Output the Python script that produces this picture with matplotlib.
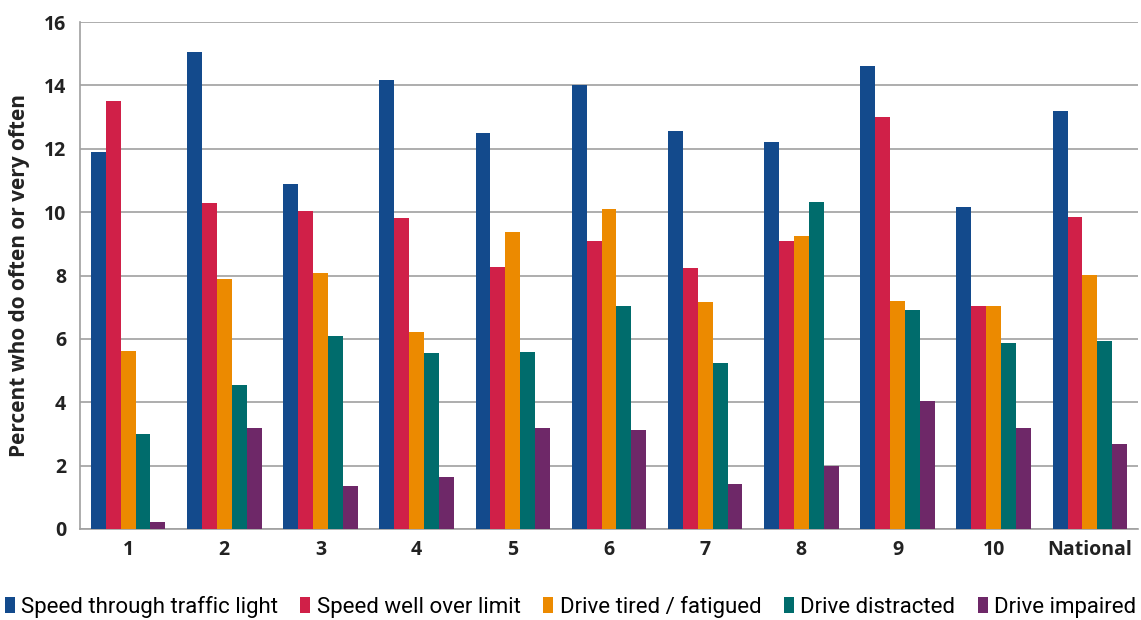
import matplotlib
matplotlib.use("Agg")
import matplotlib.pyplot as plt
import numpy as np

categories = ["1", "2", "3", "4", "5", "6", "7", "8", "9", "10", "National"]
series_names = ["Speed through traffic light", "Speed well over limit",
                "Drive tired / fatigued", "Drive distracted", "Drive impaired"]
speed_light = [11.9, 15.05, 10.9, 14.18, 12.5, 14.0, 12.56, 12.21, 14.6, 10.16, 13.18]
speed_limit = [13.5, 10.28, 10.05, 9.81, 8.26, 9.09, 8.23, 9.09, 13.0, 7.05, 9.86]
tired = [5.63, 7.9, 8.07, 6.21, 9.36, 10.09, 7.16, 9.26, 7.21, 7.03, 8.02]
distracted = [3.0, 4.55, 6.09, 5.55, 5.58, 7.05, 5.23, 10.32, 6.9, 5.87, 5.93]
impaired = [0.23, 3.2, 1.37, 1.65, 3.2, 3.13, 1.42, 1.99, 4.03, 3.2, 2.69]
colors = ["#134a8c", "#d02048", "#ec8a00", "#006c6c", "#6e2868"]
yticks = [0, 2, 4, 6, 8, 10, 12, 14, 16]

plt.rcParams['font.family'] = ['Open Sans', 'DejaVu Sans']

fig = plt.figure(figsize=(11.41, 6.2), dpi=100)
ax = fig.add_axes([80/1141, 1 - 529/620, (1138-80)/1141, (529-22)/620])

data = [speed_light, speed_limit, tired, distracted, impaired]
x = np.arange(len(categories))
bw = 0.155
for i, (vals, c, name) in enumerate(zip(data, colors, series_names)):
    ax.bar(x + (i - 2) * bw, vals, bw, color=c, label=name, zorder=3)

ax.set_xlim(-0.5, len(categories) - 0.5)
ax.set_ylim(0, 16)
ax.set_yticks(yticks)
ax.set_yticklabels([str(t) for t in yticks], fontsize=14, fontweight='bold', color='#222222')
ax.set_xticks(x)
ax.set_xticklabels(categories, fontsize=14, fontweight='bold', color='#222222')
ax.tick_params(axis='y', length=0, pad=10)
ax.tick_params(axis='x', length=0, pad=8)
ax.yaxis.grid(True, color='#a0a0a0', linewidth=1.2, zorder=0)
ax.set_axisbelow(True)
for s in ['top', 'right']:
    ax.spines[s].set_visible(False)
ax.spines['left'].set_color('#a0a0a0')
ax.spines['bottom'].set_color('#a0a0a0')
ax.spines['left'].set_linewidth(1.2)
ax.spines['bottom'].set_linewidth(1.2)
ax.set_ylabel("Percent who do often or very often", fontsize=15, fontweight='bold',
              color='#222222', labelpad=10)

leg = fig.legend(loc='center', bbox_to_anchor=(0.5, 1 - 607/620), ncol=5, frameon=False,
                 prop={'family': ['Roboto', 'DejaVu Sans'], 'size': 16},
                 handlelength=0.45, handleheight=0.7, handletextpad=0.3, columnspacing=1.0)

fig.savefig("out.png", dpi=100)
